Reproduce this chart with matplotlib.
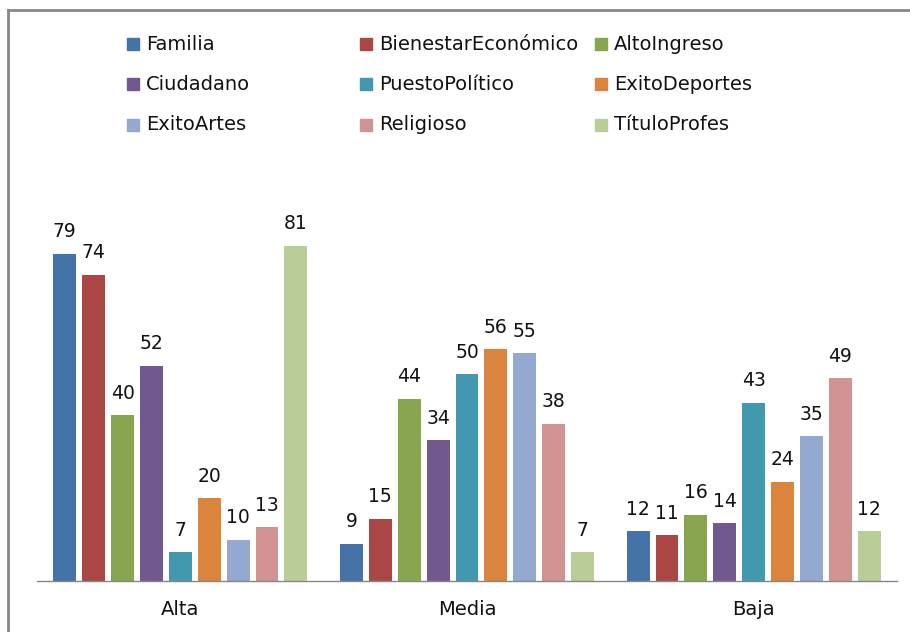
import matplotlib.pyplot as plt
from matplotlib.patches import Rectangle
from matplotlib.lines import Line2D
import numpy as np

# categories and series
groups = ["Alta", "Media", "Baja"]
series = ["Familia", "BienestarEconómico", "AltoIngreso",
          "Ciudadano", "PuestoPolítico", "ExitoDeportes",
          "ExitoArtes", "Religioso", "TítuloProfes"]
alta = [79, 74, 40, 52, 7, 20, 10, 13, 81]
media = [9, 15, 44, 34, 50, 56, 55, 38, 7]
baja = [12, 11, 16, 14, 43, 24, 35, 49, 12]
colors = ["#4572A7", "#AA4643", "#89A54E", "#71588F", "#4198AF",
          "#DB843D", "#93A9CF", "#D19392", "#B9CD96"]

values = np.array([alta, media, baja])  # shape (groups, series)

plt.rcParams['font.family'] = ['DejaVu Sans']
fig = plt.figure(figsize=(9.1, 6.32), dpi=100)
W, H = 910, 632
ax = fig.add_axes([37 / W, (H - 581) / H, 860 / W, 414 / H])

x = np.arange(len(groups))
slot = 0.1008
width = 0.08
for i, name in enumerate(series):
    pos = x + (i - 4) * slot
    bars = ax.bar(pos, values[:, i], width, color=colors[i])
    for b, v in zip(bars, values[:, i]):
        ax.annotate(str(v), (b.get_x() + b.get_width() / 2, v),
                    xytext=(0, 9), textcoords="offset points",
                    ha="center", va="bottom", fontsize=13.5, color="#111111")

ax.set_xlim(-0.5, 2.5)
ax.set_ylim(0, 100)
ax.set_xticks(x)
ax.set_xticklabels(groups, fontsize=14, color="#111111")
ax.tick_params(axis="x", length=0, pad=14)
ax.set_yticks([])
for s in ["top", "right", "left"]:
    ax.spines[s].set_visible(False)
ax.spines["bottom"].set_color("#868686")
ax.spines["bottom"].set_linewidth(1)

# legend, laid out in rows of three like the original
col_x = [127, 360, 595]
row_y = [44, 84, 125]
for i, name in enumerate(series):
    cx, cy = col_x[i % 3], row_y[i // 3]
    fig.patches.append(Rectangle((cx / W, 1 - (cy + 6) / H), 12 / W, 12 / H,
                                 transform=fig.transFigure, color=colors[i]))
    fig.text((cx + 19) / W, 1 - cy / H, name, fontsize=14,
             va="center", ha="left", color="#111111")

# chart frame (top and left edges visible)
fig.add_artist(Line2D([8 / W, 1], [1 - 10 / H, 1 - 10 / H],
                      transform=fig.transFigure, color="#878787", lw=2))
fig.add_artist(Line2D([8 / W, 8 / W], [0, 1 - 10 / H],
                      transform=fig.transFigure, color="#878787", lw=2))

fig.savefig("out.png", dpi=100)
